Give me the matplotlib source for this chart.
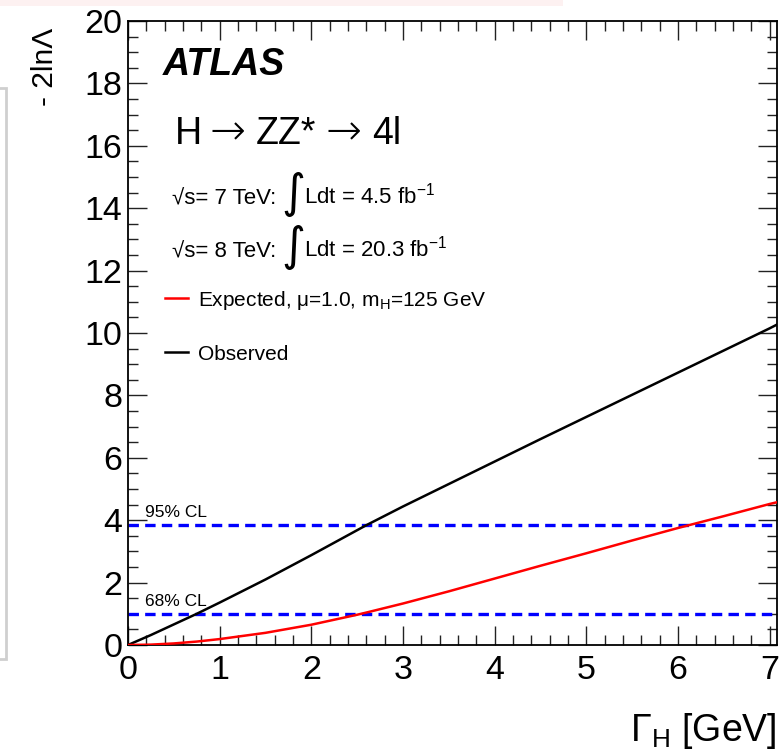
import matplotlib
matplotlib.use("Agg")
import matplotlib.pyplot as plt
from matplotlib.patches import Rectangle
from matplotlib.ticker import MultipleLocator

plt.rcParams['font.family'] = ['Liberation Sans', 'DejaVu Sans']
plt.rcParams['mathtext.fontset'] = 'custom'
plt.rcParams['mathtext.rm'] = 'Liberation Sans'
plt.rcParams['mathtext.it'] = 'Liberation Sans:italic'
plt.rcParams['mathtext.bf'] = 'Liberation Sans:bold'
plt.rcParams['lines.scale_dashes'] = False

# ---- data ----
gamma_h = [0, 0.25, 0.5, 0.75, 1.0, 1.5, 2.0, 2.5, 2.6, 3.0, 3.5, 4.0, 4.5, 5.0, 5.5, 6.0, 6.5, 7.0, 7.1]
observed = [0, 0.32, 0.66, 1.0, 1.36, 2.1, 2.88, 3.68, 3.84, 4.44, 5.16, 5.88, 6.6, 7.31, 8.02, 8.73, 9.44, 10.15, 10.3]
expected = [0, 0.012, 0.05, 0.11, 0.19, 0.39, 0.65, 0.97, 1.04, 1.33, 1.72, 2.13, 2.54, 2.94, 3.35, 3.75, 4.13, 4.52, 4.59]
cl_levels = [1.0, 3.84]
cl_labels = ["68% CL", "95% CL"]

W, H = 779, 752
fig = plt.figure(figsize=(W / 100, H / 100), dpi=100)

def fx(px):
    return px / W

def fy(py):
    return 1 - py / H

# decorative artifacts of the reference crop
fig.patches.append(Rectangle((0, fy(6)), fx(563), 6 / H, transform=fig.transFigure,
                             facecolor='#fdf1f1', edgecolor='none', zorder=0))
fig.patches.append(Rectangle((fx(-40), fy(659)), fx(46), (659 - 88) / H, transform=fig.transFigure,
                             facecolor='none', edgecolor='#cfcfcf', lw=2.0, zorder=0))

ax = fig.add_axes([fx(128), fy(645), fx(777) - fx(128), fy(21) - fy(645)])
ax.set_xlim(0, 7.08)
ax.set_ylim(0, 20)

ax.plot(gamma_h, observed, color='black', lw=1.8, zorder=3)
ax.plot(gamma_h, expected, color='#ff0000', lw=1.8, zorder=3)
for lvl, lab in zip(cl_levels, cl_labels):
    ax.axhline(lvl, color='#0000ff', lw=2.4, dashes=(7.5, 4.5), zorder=2)
    ax.text(0.185, lvl + 0.25, lab, fontsize=12.5, ha='left', va='baseline', color='black')

ax.xaxis.set_major_locator(MultipleLocator(1))
ax.xaxis.set_minor_locator(MultipleLocator(0.2))
ax.yaxis.set_major_locator(MultipleLocator(2))
ax.yaxis.set_minor_locator(MultipleLocator(0.5))
ax.tick_params(which='both', direction='in', top=True, right=True, width=1.0, color='#222222')
ax.tick_params(which='major', length=13.5, labelsize=24.5, pad=4)
ax.tick_params(which='minor', length=7)
ax.tick_params(axis='x', which='major', pad=7)
for s in ax.spines.values():
    s.set_linewidth(1.3)

# axis titles
fig.text(fx(777), fy(741), r"$\Gamma_{\mathrm{H}}$ [GeV]", fontsize=27, ha='right', va='baseline')
fig.text(fx(45), fy(28), u"- 2ln\u039b", fontsize=21.5, rotation=90, ha='center', va='top')

# annotations
fig.text(fx(163), fy(75), "ATLAS", fontsize=27, fontweight='bold', fontstyle='italic', ha='left', va='baseline')

# H -> ZZ* -> 4l, pieces placed as in the reference
proc_base = 144
fig.text(fx(175), fy(proc_base), "H", fontsize=27, ha='left', va='baseline')
fig.text(fx(209), fy(proc_base), u"\u2192", fontsize=31, ha='left', va='baseline',
         family=['DejaVu Sans', 'Liberation Sans'], fontweight=200)
fig.text(fx(256), fy(proc_base), "ZZ*", fontsize=27, ha='left', va='baseline')
fig.text(fx(326), fy(proc_base), u"\u2192", fontsize=31, ha='left', va='baseline',
         family=['DejaVu Sans', 'Liberation Sans'], fontweight=200)
fig.text(fx(372), fy(proc_base), "4l", fontsize=27, ha='left', va='baseline')

for base, txt in [(204, (u"\u221as= 7 TeV:", r"Ldt = 4.5 fb$^{\mathregular{-1}}$")),
                  (257, (u"\u221as= 8 TeV:", r"Ldt = 20.3 fb$^{\mathregular{-1}}$"))]:
    fig.text(fx(172), fy(base), txt[0], fontsize=16, ha='left', va='baseline')
    fig.text(fx(281), fy(base + 3), u"\u222b", fontsize=33, ha='left', va='baseline',
             family=['DejaVu Sans'])
    fig.text(fx(304), fy(base), txt[1], fontsize=16, ha='left', va='baseline')

leg_x0, leg_x1 = 165, 188
fig.add_artist(plt.Line2D([fx(leg_x0), fx(leg_x1)], [fy(298), fy(298)], color='#ff0000', lw=1.8,
                          transform=fig.transFigure))
fig.add_artist(plt.Line2D([fx(leg_x0), fx(leg_x1)], [fy(352), fy(352)], color='black', lw=1.8,
                          transform=fig.transFigure))
fig.text(fx(198), fy(306), r"Expected, $\mathregular{\mu}$=1.0, m$_{\mathrm{H}}$=125 GeV", fontsize=15, ha='left', va='baseline')
fig.text(fx(198), fy(360), "Observed", fontsize=15, ha='left', va='baseline')

fig.savefig("out.png", dpi=100)
